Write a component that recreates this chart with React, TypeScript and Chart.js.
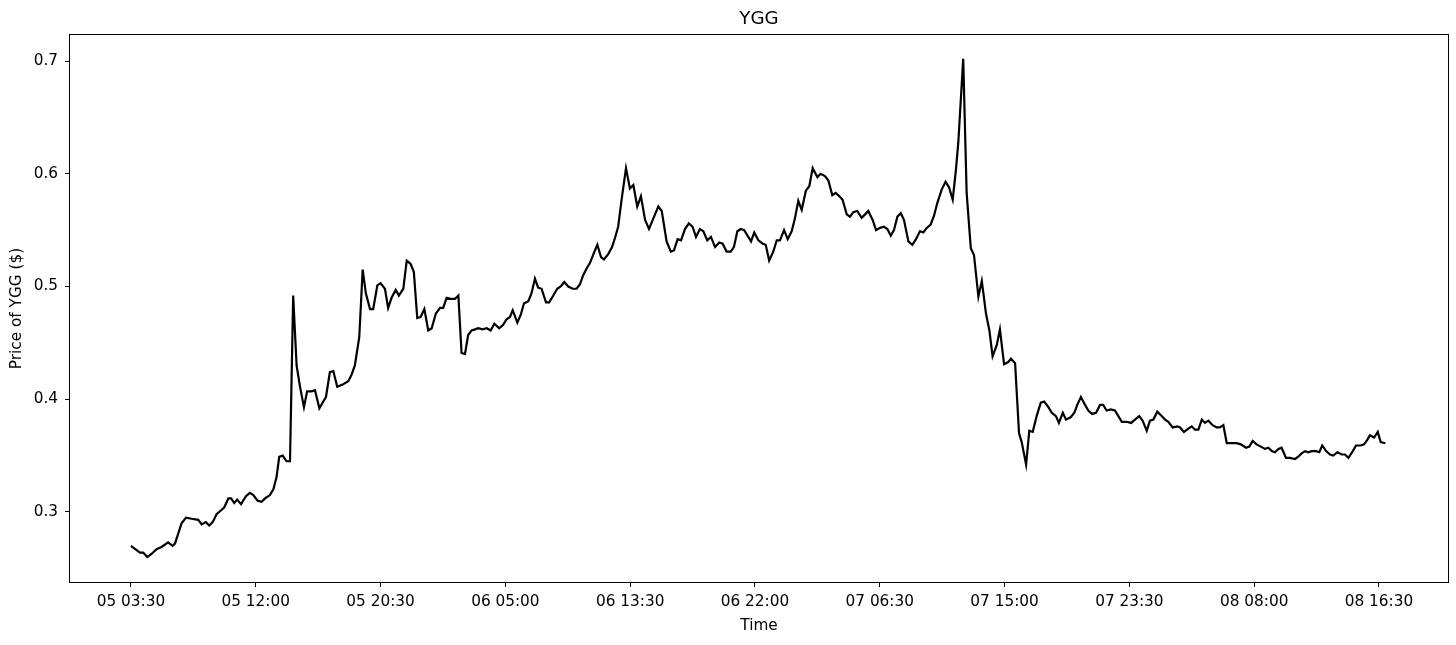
import React, { useEffect, useRef } from "react";
import { Chart, registerables } from "chart.js";

Chart.register(...registerables);

// minutes since 05 03:30
const times: number[] = [
  0, 37, 50, 67, 85, 105, 125, 152, 170, 180, 207, 225, 248, 275, 289, 306, 320, 334, 350, 371,
  381, 398, 409, 422, 434, 450, 470, 486, 500, 518, 534, 548, 568, 582, 595, 606, 620, 636, 650, 663,
  677, 691, 707, 720, 738, 752, 770, 786, 797, 813, 827, 843, 865, 888, 902, 915, 933, 947, 960, 977,
  990, 1007, 1020, 1038, 1051, 1065, 1082, 1095, 1113, 1127, 1143, 1156, 1170, 1184, 1199, 1215, 1229, 1246, 1263, 1276,
  1290, 1306, 1324, 1338,
  1351, 1365, 1378, 1392, 1406, 1419, 1437, 1454, 1470, 1485, 1505, 1521, 1535, 1549, 1560, 1579, 1593, 1606, 1624, 1637,
  1651, 1664, 1678, 1696, 1709, 1726, 1742, 1756, 1771, 1787, 1805, 1821, 1835, 1848, 1862, 1876, 1896, 1906, 1921, 1933,
  1951,
  1966, 1978, 1991, 2005, 2023, 2039, 2053, 2069, 2084, 2101,
  2117, 2134, 2155, 2169, 2189, 2206, 2219, 2234, 2248, 2264,
  2280, 2295, 2309, 2325, 2339, 2355, 2370, 2387, 2404, 2418,
  2434, 2451, 2464, 2478, 2492, 2506, 2520, 2534, 2547, 2564,
  2582, 2594, 2608, 2625, 2639, 2652, 2669, 2684, 2700, 2713,
  2727, 2741, 2758, 2772, 2786, 2805, 2818, 2836, 2850, 2866,
  2880, 2895, 2908, 2925, 2938, 2952, 2968, 2986, 3000, 3013,
  3031, 3045, 3061, 3077, 3091, 3105, 3118, 3132, 3146, 3159,
  3177, 3193, 3208, 3224, 3238, 3252, 3268, 3282, 3295, 3313,
  3329, 3343, 3358, 3371, 3381, 3391, 3401, 3415, 3432, 3445,
  3463, 3477, 3494, 3508, 3521, 3538, 3551, 3568, 3585, 3596,
  3613, 3629, 3640, 3658, 3671, 3685, 3701, 3718, 3732, 3749,
  3763, 3780, 3792, 3808, 3821, 3840, 3855, 3867, 3882, 3899,
  3912, 3928, 3944, 3960, 3973, 3987, 4004, 4021, 4035, 4049,
  4069, 4087, 4103, 4120, 4134, 4151, 4164, 4178, 4194, 4208,
  4226, 4239, 4257, 4276, 4287, 4303, 4321, 4335, 4348, 4362,
  4376, 4389, 4403, 4420, 4437, 4450, 4464, 4478, 4498, 4519,
  4535, 4557, 4570, 4584, 4600, 4617, 4634, 4648, 4662, 4675,
  4689, 4702, 4720, 4736, 4757, 4770, 4784, 4798, 4811, 4825,
  4843, 4856, 4868, 4884, 4900, 4913, 4930, 4948, 4961, 4975,
  4993, 5006, 5025, 5039, 5052, 5063, 5080, 5095, 5107, 5126,
];

const prices: number[] = [
  0.270, 0.264, 0.264, 0.260, 0.263, 0.267, 0.269, 0.273, 0.270, 0.272, 0.290, 0.295, 0.294, 0.293, 0.289, 0.291, 0.288, 0.291, 0.298, 0.302,
  0.304, 0.312, 0.312, 0.308, 0.311, 0.307, 0.314, 0.317, 0.315, 0.310, 0.309, 0.312, 0.315, 0.320, 0.331, 0.349, 0.350, 0.345, 0.345, 0.492,
  0.430, 0.411, 0.393, 0.407, 0.407, 0.408, 0.392, 0.398, 0.402, 0.424, 0.425, 0.411, 0.413, 0.416, 0.422, 0.430, 0.455, 0.515, 0.494, 0.480,
  0.480, 0.501, 0.503, 0.498, 0.481, 0.490, 0.497, 0.492, 0.498, 0.523, 0.520, 0.513, 0.472, 0.473, 0.480, 0.461, 0.463, 0.476, 0.481, 0.481,
  0.490, 0.489, 0.489, 0.492,
  0.441, 0.440, 0.457, 0.461, 0.462, 0.463, 0.462, 0.463, 0.461, 0.467, 0.463, 0.466, 0.471, 0.473, 0.479, 0.468, 0.475, 0.485, 0.487, 0.494,
  0.507, 0.499, 0.498, 0.486, 0.486, 0.492, 0.498, 0.500, 0.504, 0.500, 0.498, 0.498, 0.502, 0.510, 0.516, 0.521, 0.532, 0.537, 0.526, 0.524,
  0.529,
  0.535, 0.543, 0.553, 0.577, 0.605, 0.587, 0.590, 0.571, 0.580, 0.559,
  0.551, 0.560, 0.571, 0.567, 0.540, 0.531, 0.532, 0.542, 0.541, 0.551,
  0.556, 0.553, 0.544, 0.551, 0.549, 0.541, 0.544, 0.535, 0.539, 0.538,
  0.531, 0.531, 0.535, 0.549, 0.551, 0.550, 0.545, 0.540, 0.548, 0.541,
  0.538, 0.537, 0.523, 0.531, 0.541, 0.541, 0.550, 0.542, 0.549, 0.560,
  0.576, 0.568, 0.585, 0.589, 0.605, 0.597, 0.600, 0.598, 0.594, 0.581,
  0.583, 0.580, 0.577, 0.564, 0.562, 0.566, 0.567, 0.561, 0.564, 0.567,
  0.559, 0.550, 0.552, 0.553, 0.551, 0.545, 0.550, 0.562, 0.565, 0.559,
  0.540, 0.537, 0.542, 0.549, 0.548, 0.552, 0.555, 0.563, 0.574, 0.586,
  0.593, 0.588, 0.577, 0.603, 0.628, 0.665, 0.702, 0.583, 0.534, 0.528,
  0.491, 0.505, 0.476, 0.461, 0.438, 0.448, 0.462, 0.431, 0.433, 0.436,
  0.432, 0.370, 0.362, 0.342, 0.372, 0.371, 0.385, 0.397, 0.398, 0.393,
  0.388, 0.385, 0.379, 0.388, 0.382, 0.384, 0.388, 0.395, 0.402, 0.395,
  0.390, 0.387, 0.388, 0.395, 0.395, 0.390, 0.391, 0.390, 0.385, 0.380,
  0.380, 0.379, 0.382, 0.385, 0.381, 0.372, 0.381, 0.382, 0.389, 0.386,
  0.382, 0.380, 0.375, 0.376, 0.375, 0.371, 0.374, 0.376, 0.373, 0.373,
  0.382, 0.379, 0.381, 0.377, 0.375, 0.375, 0.377, 0.361, 0.361, 0.361,
  0.360, 0.357, 0.358, 0.363, 0.360, 0.358, 0.356, 0.357, 0.354, 0.353,
  0.356, 0.357, 0.348, 0.348, 0.347, 0.349, 0.352, 0.354, 0.353, 0.354,
  0.354, 0.353, 0.359, 0.354, 0.351, 0.350, 0.353, 0.351, 0.351, 0.348,
  0.354, 0.359, 0.359, 0.360, 0.364, 0.368, 0.366, 0.371, 0.362, 0.361,
];

const tickMinutes: number[] = [0, 510, 1020, 1530, 2040, 2550, 3060, 3570, 4080, 4590, 5100];
const tickLabels: string[] = [
  "05 03:30", "05 12:00", "05 20:30", "06 05:00", "06 13:30", "06 22:00",
  "07 06:30", "07 15:00", "07 23:30", "08 08:00", "08 16:30",
];
const yTicks: number[] = [0.3, 0.4, 0.5, 0.6, 0.7];

const FONT = "'DejaVu Sans', sans-serif";
const TICK_SIZE = 15.3;
const LABEL_SIZE = 15.3;
const TITLE_SIZE = 18.2;

const frame = {
  id: "frame",
  afterDraw(chart: any) {
    const { ctx, chartArea } = chart;
    const { left, top, right, bottom } = chartArea;
    ctx.save();
    ctx.strokeStyle = "#000";
    ctx.lineWidth = 1;
    ctx.strokeRect(left - 0.5, top - 0.5, right - left + 1, bottom - top + 1);
    ctx.restore();
  },
};

export default function App() {
  const ref = useRef<HTMLCanvasElement | null>(null);

  useEffect(() => {
    document.body.style.margin = "0";
    const canvas = ref.current;
    if (!canvas) return;
    const chart = new Chart(canvas, {
      type: "line",
      data: {
        datasets: [
          {
            data: times.map((t, i) => ({ x: t, y: prices[i] })),
            borderColor: "#000",
            borderWidth: 2.2,
            pointRadius: 0,
            tension: 0,
            fill: false,
          },
        ],
      },
      options: {
        responsive: false,
        animation: false,
        devicePixelRatio: 1,
        layout: { autoPadding: false, padding: { left: 0, right: 8, top: 0, bottom: 0 } },
        plugins: {
          legend: { display: false },
          tooltip: { enabled: false },
          title: {
            display: true,
            text: "YGG",
            fullSize: false,
            color: "#000",
            font: { family: FONT, size: TITLE_SIZE, weight: "normal" },
            padding: { top: 8, bottom: 35 - 8 - TITLE_SIZE * 1.2 },
          },
        },
        scales: {
          x: {
            type: "linear",
            min: -249,
            max: 5382,
            border: { display: false },
            grid: { drawOnChartArea: false, drawTicks: true, tickLength: 5, color: "#000", lineWidth: 1 },
            ticks: {
              autoSkip: false,
              maxRotation: 0,
              padding: 6,
              color: "#000",
              font: { family: FONT, size: TICK_SIZE },
              callback: (v: any) => {
                const i = tickMinutes.indexOf(Number(v));
                return i >= 0 ? tickLabels[i] : "";
              },
            },
            afterBuildTicks: (scale: any) => {
              scale.ticks = tickMinutes.map((v) => ({ value: v }));
            },
            afterFit: (scale: any) => {
              scale.height = 63;
            },
            title: {
              display: true,
              text: "Time",
              color: "#000",
              font: { family: FONT, size: LABEL_SIZE },
              padding: { top: 0, bottom: 10 },
            },
          },
          y: {
            type: "linear",
            min: 0.2379,
            max: 0.7231,
            border: { display: false },
            grid: { drawOnChartArea: false, drawTicks: true, tickLength: 5, color: "#000", lineWidth: 1 },
            ticks: {
              padding: 7,
              color: "#000",
              font: { family: FONT, size: TICK_SIZE },
              callback: (v: any) => Number(v).toFixed(1),
            },
            afterBuildTicks: (scale: any) => {
              scale.ticks = yTicks.map((v) => ({ value: v }));
            },
            afterFit: (scale: any) => {
              scale.width = 70;
            },
            title: {
              display: true,
              text: "Price of YGG ($)",
              color: "#000",
              font: { family: FONT, size: LABEL_SIZE },
              padding: { top: 8, bottom: 0 },
            },
          },
        },
      },
      plugins: [frame],
    });
    return () => chart.destroy();
  }, []);

  return (
    <div style={{ position: "fixed", left: 0, top: 0, width: 1456, height: 645, background: "#fff" }}>
      <canvas ref={ref} width={1456} height={645} style={{ width: 1456, height: 645 }} />
    </div>
  );
}
